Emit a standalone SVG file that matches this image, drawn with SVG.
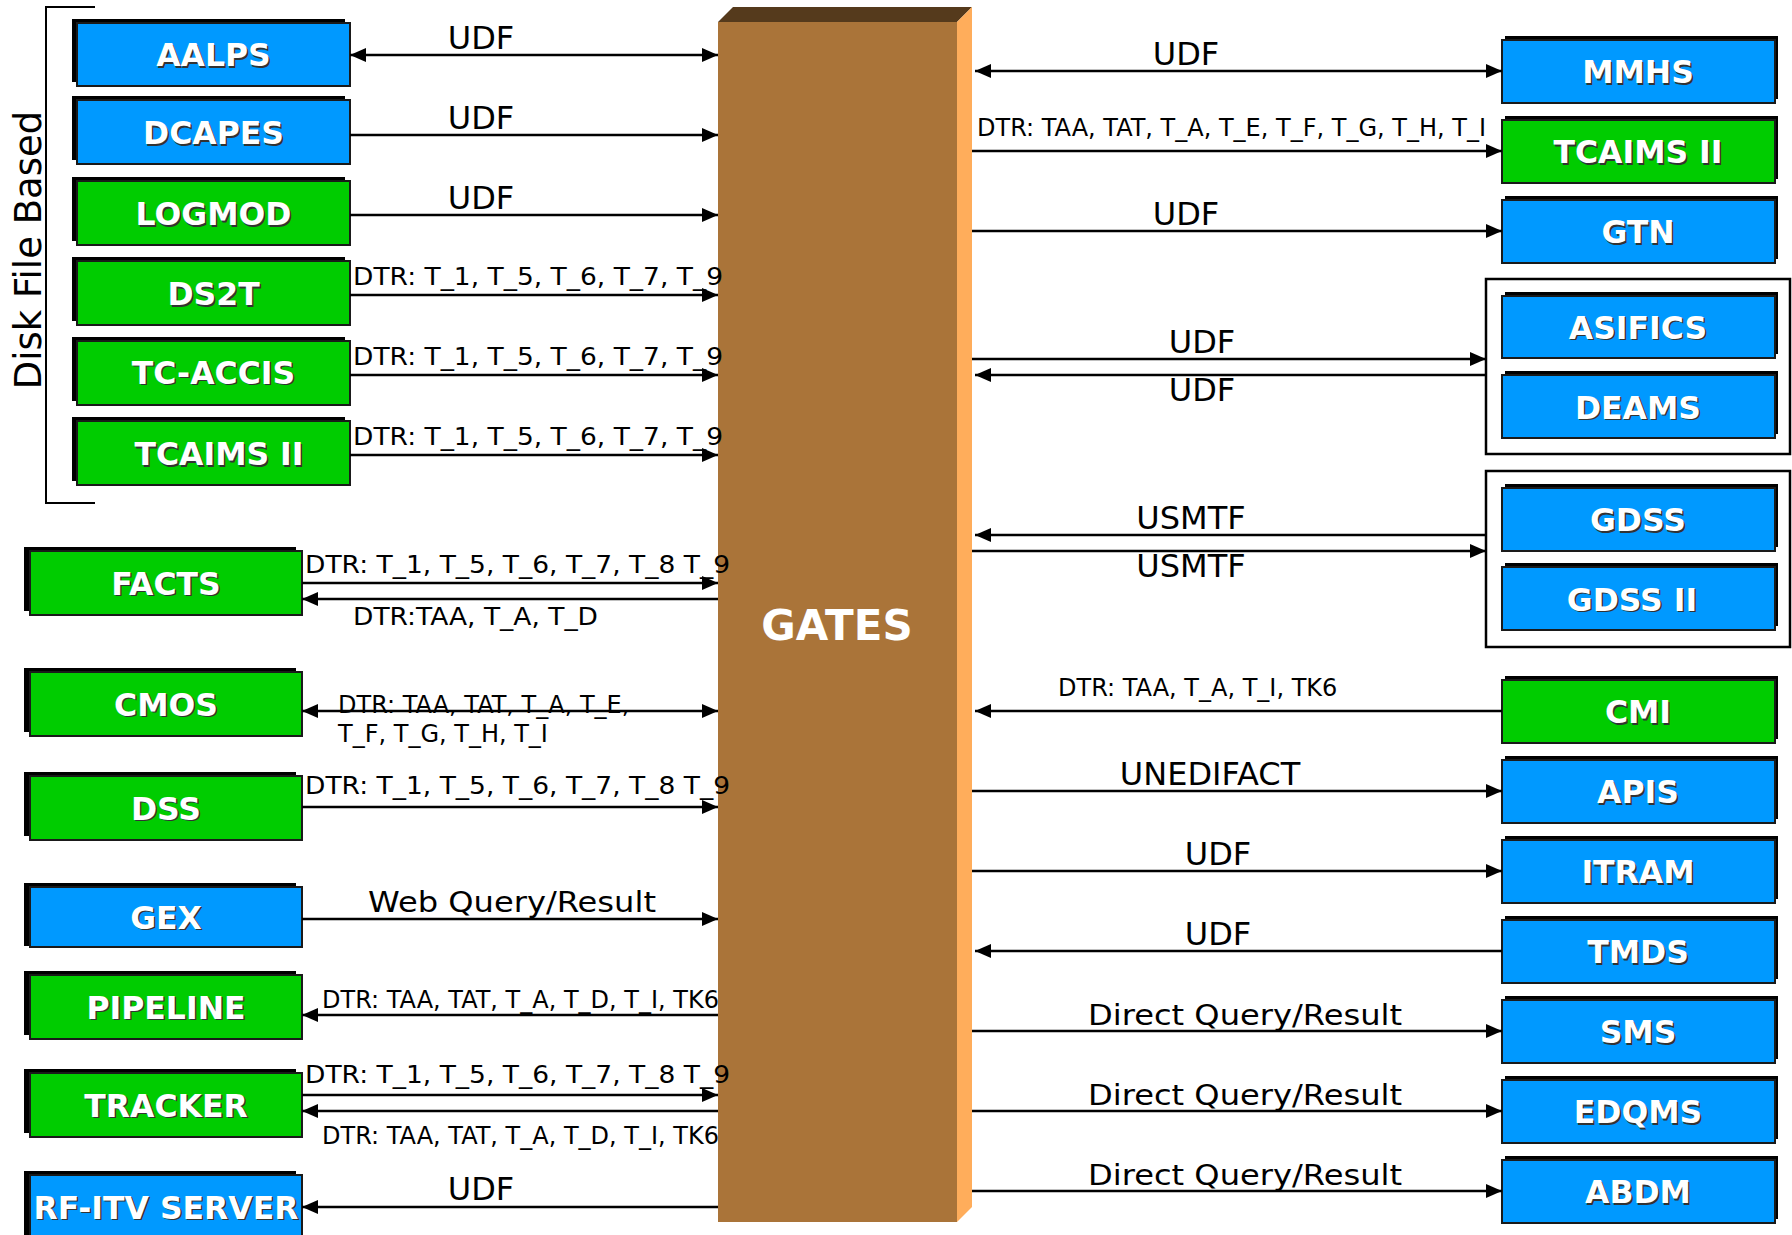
<svg xmlns="http://www.w3.org/2000/svg" width="1792" height="1235" viewBox="0 0 1792 1235">
<style>
text{font-family:"DejaVu Sans","Liberation Sans",sans-serif}
.sh{fill:#000}
.blue{fill:#0099ff;stroke:#1a1a1a;stroke-width:2}
.green{fill:#00cc00;stroke:#1a1a1a;stroke-width:2}
.nt{font-weight:bold;font-size:31.5px;fill:#fff;text-anchor:middle}
.nts{font-weight:bold;font-size:31.5px;fill:#333;text-anchor:middle}
.ln{stroke:#000;stroke-width:2.4;fill:none}
.big{font-size:32px;fill:#000}
.mid{font-size:29px;fill:#000}
.sm{font-size:24px;fill:#000}
.tl{font-size:25px;fill:#000}
.grp{fill:#fff;stroke:#000;stroke-width:2.5}
</style>
<defs>
<marker id="ah" viewBox="0 0 16 14" refX="16" refY="7" markerWidth="16" markerHeight="14" markerUnits="userSpaceOnUse" orient="auto-start-reverse"><path d="M0,0 L16,7 L0,14 z" fill="#000"/></marker>
</defs>
<rect width="1792" height="1235" fill="#fff"/>

<g id="disk-file-based">
<path d="M95,7 H46 V503 H95" fill="none" stroke="#000" stroke-width="2"/>
<text transform="translate(41,250) rotate(-90)" text-anchor="middle" font-size="37" fill="#000">Disk File Based</text>
</g>

<g id="gates">
<polygon points="718,22 733,7 972,7 957,22" fill="#553a1c"/>
<polygon points="957,22 972,7 972,1207 957,1222" fill="#ffad5b"/>
<rect x="718" y="22" width="239" height="1200" fill="#aa7439"/>
<text x="837" y="640" text-anchor="middle" font-weight="bold" font-size="42" fill="#fff">GATES</text>
</g>

<g id="group-asifics">
<rect class="grp" x="1486" y="279" width="304" height="175"/>
</g>
<g id="group-gdss">
<rect class="grp" x="1486" y="471" width="304" height="176"/>
</g>

<!-- left column 1 -->
<g id="n-aalps"><rect class="sh" x="72" y="19" width="273" height="63"/><rect class="blue" x="77" y="23" width="273" height="63"/><text class="nts" x="215" y="67.5">AALPS</text><text class="nt" x="213.5" y="66">AALPS</text></g>
<g id="n-dcapes"><rect class="sh" x="72" y="96" width="273" height="64"/><rect class="blue" x="77" y="100" width="273" height="64"/><text class="nts" x="215" y="145.5">DCAPES</text><text class="nt" x="213.5" y="144">DCAPES</text></g>
<g id="n-logmod"><rect class="sh" x="72" y="177" width="273" height="64"/><rect class="green" x="77" y="181" width="273" height="64"/><text class="nts" x="215" y="226.5">LOGMOD</text><text class="nt" x="213.5" y="225">LOGMOD</text></g>
<g id="n-ds2t"><rect class="sh" x="72" y="257" width="273" height="64"/><rect class="green" x="77" y="261" width="273" height="64"/><text class="nts" x="215" y="306.5">DS2T</text><text class="nt" x="213.5" y="305">DS2T</text></g>
<g id="n-tcaccis"><rect class="sh" x="72" y="337" width="273" height="64"/><rect class="green" x="77" y="341" width="273" height="64"/><text class="nts" x="215" y="385">TC-ACCIS</text><text class="nt" x="213.5" y="383.5">TC-ACCIS</text></g>
<g id="n-tcaims-l"><rect class="sh" x="72" y="417" width="273" height="64"/><rect class="green" x="77" y="421" width="273" height="64"/><text class="nts" x="220.5" y="466.5">TCAIMS II</text><text class="nt" x="219" y="465">TCAIMS II</text></g>

<!-- left column 2 -->
<g id="n-facts"><rect class="sh" x="24" y="547" width="272" height="64"/><rect class="green" x="30" y="551" width="272" height="64"/><text class="nts" x="167.5" y="596">FACTS</text><text class="nt" x="166" y="594.5">FACTS</text></g>
<g id="n-cmos"><rect class="sh" x="24" y="668" width="272" height="64"/><rect class="green" x="30" y="672" width="272" height="64"/><text class="nts" x="167.5" y="717">CMOS</text><text class="nt" x="166" y="715.5">CMOS</text></g>
<g id="n-dss"><rect class="sh" x="24" y="772" width="272" height="64"/><rect class="green" x="30" y="776" width="272" height="64"/><text class="nts" x="167.5" y="821">DSS</text><text class="nt" x="166" y="819.5">DSS</text></g>
<g id="n-gex"><rect class="sh" x="24" y="883" width="272" height="63"/><rect class="blue" x="30" y="887" width="272" height="60"/><text class="nts" x="167.5" y="930">GEX</text><text class="nt" x="166" y="928.5">GEX</text></g>
<g id="n-pipeline"><rect class="sh" x="24" y="971" width="272" height="64"/><rect class="green" x="30" y="975" width="272" height="64"/><text class="nts" x="167.5" y="1020">PIPELINE</text><text class="nt" x="166" y="1018.5">PIPELINE</text></g>
<g id="n-tracker"><rect class="sh" x="24" y="1069" width="272" height="64"/><rect class="green" x="30" y="1073" width="272" height="64"/><text class="nts" x="167.5" y="1118">TRACKER</text><text class="nt" x="166" y="1116.5">TRACKER</text></g>
<g id="n-rfitv"><rect class="sh" x="24" y="1171" width="272" height="68"/><rect class="blue" x="30" y="1175" width="272" height="64"/><text class="nts" x="167.5" y="1220">RF-ITV SERVER</text><text class="nt" x="166" y="1218.5">RF-ITV SERVER</text></g>

<!-- right column -->
<g id="n-mmhs"><rect class="sh" x="1505" y="36" width="273" height="63"/><rect class="blue" x="1502" y="40" width="273" height="63"/><text class="nts" x="1639.5" y="84.5">MMHS</text><text class="nt" x="1638" y="83">MMHS</text></g>
<g id="n-tcaims-r"><rect class="sh" x="1505" y="116" width="273" height="63"/><rect class="green" x="1502" y="120" width="273" height="63"/><text class="nts" x="1639.5" y="164.5">TCAIMS II</text><text class="nt" x="1638" y="163">TCAIMS II</text></g>
<g id="n-gtn"><rect class="sh" x="1505" y="196" width="273" height="63"/><rect class="blue" x="1502" y="200" width="273" height="63"/><text class="nts" x="1639.5" y="244.5">GTN</text><text class="nt" x="1638" y="243">GTN</text></g>
<g id="n-asifics"><rect class="sh" x="1505" y="292" width="273" height="62"/><rect class="blue" x="1502" y="296" width="273" height="62"/><text class="nts" x="1639.5" y="340">ASIFICS</text><text class="nt" x="1638" y="338.5">ASIFICS</text></g>
<g id="n-deams"><rect class="sh" x="1505" y="371" width="273" height="63"/><rect class="blue" x="1502" y="375" width="273" height="63"/><text class="nts" x="1639.5" y="420">DEAMS</text><text class="nt" x="1638" y="418.5">DEAMS</text></g>
<g id="n-gdss"><rect class="sh" x="1505" y="484" width="273" height="63"/><rect class="blue" x="1502" y="488" width="273" height="63"/><text class="nts" x="1639.5" y="532.5">GDSS</text><text class="nt" x="1638" y="531">GDSS</text></g>
<g id="n-gdss2"><rect class="sh" x="1505" y="563" width="273" height="63"/><rect class="blue" x="1502" y="567" width="273" height="63"/><text class="nts" x="1633.5" y="612">GDSS II</text><text class="nt" x="1632" y="610.5">GDSS II</text></g>
<g id="n-cmi"><rect class="sh" x="1505" y="676" width="273" height="63"/><rect class="green" x="1502" y="680" width="273" height="63"/><text class="nts" x="1639.5" y="724.5">CMI</text><text class="nt" x="1638" y="723">CMI</text></g>
<g id="n-apis"><rect class="sh" x="1505" y="756" width="273" height="63"/><rect class="blue" x="1502" y="760" width="273" height="63"/><text class="nts" x="1639.5" y="804.5">APIS</text><text class="nt" x="1638" y="803">APIS</text></g>
<g id="n-itram"><rect class="sh" x="1505" y="836" width="273" height="63"/><rect class="blue" x="1502" y="840" width="273" height="63"/><text class="nts" x="1639.5" y="884.5">ITRAM</text><text class="nt" x="1638" y="883">ITRAM</text></g>
<g id="n-tmds"><rect class="sh" x="1505" y="916" width="273" height="63"/><rect class="blue" x="1502" y="920" width="273" height="63"/><text class="nts" x="1639.5" y="964.5">TMDS</text><text class="nt" x="1638" y="963">TMDS</text></g>
<g id="n-sms"><rect class="sh" x="1505" y="996" width="273" height="63"/><rect class="blue" x="1502" y="1000" width="273" height="63"/><text class="nts" x="1639.5" y="1044.5">SMS</text><text class="nt" x="1638" y="1043">SMS</text></g>
<g id="n-edqms"><rect class="sh" x="1505" y="1076" width="273" height="63"/><rect class="blue" x="1502" y="1080" width="273" height="63"/><text class="nts" x="1639.5" y="1124.5">EDQMS</text><text class="nt" x="1638" y="1123">EDQMS</text></g>
<g id="n-abdm"><rect class="sh" x="1505" y="1156" width="273" height="63"/><rect class="blue" x="1502" y="1160" width="273" height="63"/><text class="nts" x="1639.5" y="1204.5">ABDM</text><text class="nt" x="1638" y="1203">ABDM</text></g>

<g id="connectors" class="ln" marker-end="url(#ah)">
<line x1="350" y1="55" x2="718" y2="55" marker-start="url(#ah)"/>
<line x1="350" y1="135" x2="718" y2="135"/>
<line x1="350" y1="215" x2="718" y2="215"/>
<line x1="350" y1="295" x2="718" y2="295"/>
<line x1="350" y1="375" x2="718" y2="375"/>
<line x1="350" y1="455" x2="718" y2="455"/>
<line x1="302" y1="583" x2="718" y2="583"/>
<line x1="718" y1="599" x2="302" y2="599"/>
<line x1="302" y1="711" x2="718" y2="711" marker-start="url(#ah)"/>
<line x1="302" y1="807" x2="718" y2="807"/>
<line x1="302" y1="919" x2="718" y2="919"/>
<line x1="718" y1="1015" x2="302" y2="1015"/>
<line x1="302" y1="1095" x2="718" y2="1095"/>
<line x1="718" y1="1111" x2="302" y2="1111"/>
<line x1="718" y1="1207" x2="302" y2="1207"/>
<line x1="975" y1="71" x2="1502" y2="71" marker-start="url(#ah)"/>
<line x1="972" y1="151" x2="1502" y2="151"/>
<line x1="972" y1="231" x2="1502" y2="231"/>
<line x1="972" y1="359" x2="1486" y2="359"/>
<line x1="1486" y1="375" x2="975" y2="375"/>
<line x1="1486" y1="535" x2="975" y2="535"/>
<line x1="972" y1="551" x2="1486" y2="551"/>
<line x1="1502" y1="711" x2="975" y2="711"/>
<line x1="972" y1="791" x2="1502" y2="791"/>
<line x1="972" y1="871" x2="1502" y2="871"/>
<line x1="1502" y1="951" x2="975" y2="951"/>
<line x1="972" y1="1031" x2="1502" y2="1031"/>
<line x1="972" y1="1111" x2="1502" y2="1111"/>
<line x1="972" y1="1191" x2="1502" y2="1191"/>
</g>

<g id="labels">
<text class="big" x="481" y="49" text-anchor="middle">UDF</text>
<text class="big" x="481" y="129" text-anchor="middle">UDF</text>
<text class="big" x="481" y="209" text-anchor="middle">UDF</text>
<text class="tl" x="353" y="285" textLength="370" lengthAdjust="spacingAndGlyphs">DTR: T_1, T_5, T_6, T_7, T_9</text>
<text class="tl" x="353" y="365" textLength="370" lengthAdjust="spacingAndGlyphs">DTR: T_1, T_5, T_6, T_7, T_9</text>
<text class="tl" x="353" y="445" textLength="370" lengthAdjust="spacingAndGlyphs">DTR: T_1, T_5, T_6, T_7, T_9</text>
<text class="tl" x="305" y="573" textLength="425" lengthAdjust="spacingAndGlyphs">DTR: T_1, T_5, T_6, T_7, T_8 T_9</text>
<text class="tl" x="353" y="625" textLength="245" lengthAdjust="spacingAndGlyphs">DTR:TAA, T_A, T_D</text>
<text class="sm" x="338" y="713">DTR: TAA, TAT, T_A, T_E,</text>
<text class="sm" x="338" y="742">T_F, T_G, T_H, T_I</text>
<text class="tl" x="305" y="794" textLength="425" lengthAdjust="spacingAndGlyphs">DTR: T_1, T_5, T_6, T_7, T_8 T_9</text>
<text class="mid" x="512" y="912" text-anchor="middle" textLength="288" lengthAdjust="spacingAndGlyphs">Web Query/Result</text>
<text class="sm" x="322" y="1008">DTR: TAA, TAT, T_A, T_D, T_I, TK6</text>
<text class="tl" x="305" y="1083" textLength="425" lengthAdjust="spacingAndGlyphs">DTR: T_1, T_5, T_6, T_7, T_8 T_9</text>
<text class="sm" x="322" y="1144">DTR: TAA, TAT, T_A, T_D, T_I, TK6</text>
<text class="big" x="481" y="1200" text-anchor="middle">UDF</text>

<text class="big" x="1186" y="65" text-anchor="middle">UDF</text>
<text class="sm" x="977" y="136" font-size="23.4">DTR: TAA, TAT, T_A, T_E, T_F, T_G, T_H, T_I</text>
<text class="big" x="1186" y="225" text-anchor="middle">UDF</text>
<text class="big" x="1202" y="353" text-anchor="middle">UDF</text>
<text class="big" x="1202" y="401" text-anchor="middle">UDF</text>
<text class="big" x="1191" y="529" text-anchor="middle">USMTF</text>
<text class="big" x="1191" y="577" text-anchor="middle">USMTF</text>
<text class="sm" x="1058" y="696">DTR: TAA, T_A, T_I, TK6</text>
<text class="big" x="1210" y="785" text-anchor="middle" font-size="31">UNEDIFACT</text>
<text class="big" x="1218" y="865" text-anchor="middle">UDF</text>
<text class="big" x="1218" y="945" text-anchor="middle">UDF</text>
<text class="mid" x="1245" y="1025" text-anchor="middle" textLength="314" lengthAdjust="spacingAndGlyphs">Direct Query/Result</text>
<text class="mid" x="1245" y="1105" text-anchor="middle" textLength="314" lengthAdjust="spacingAndGlyphs">Direct Query/Result</text>
<text class="mid" x="1245" y="1185" text-anchor="middle" textLength="314" lengthAdjust="spacingAndGlyphs">Direct Query/Result</text>
</g>
</svg>
